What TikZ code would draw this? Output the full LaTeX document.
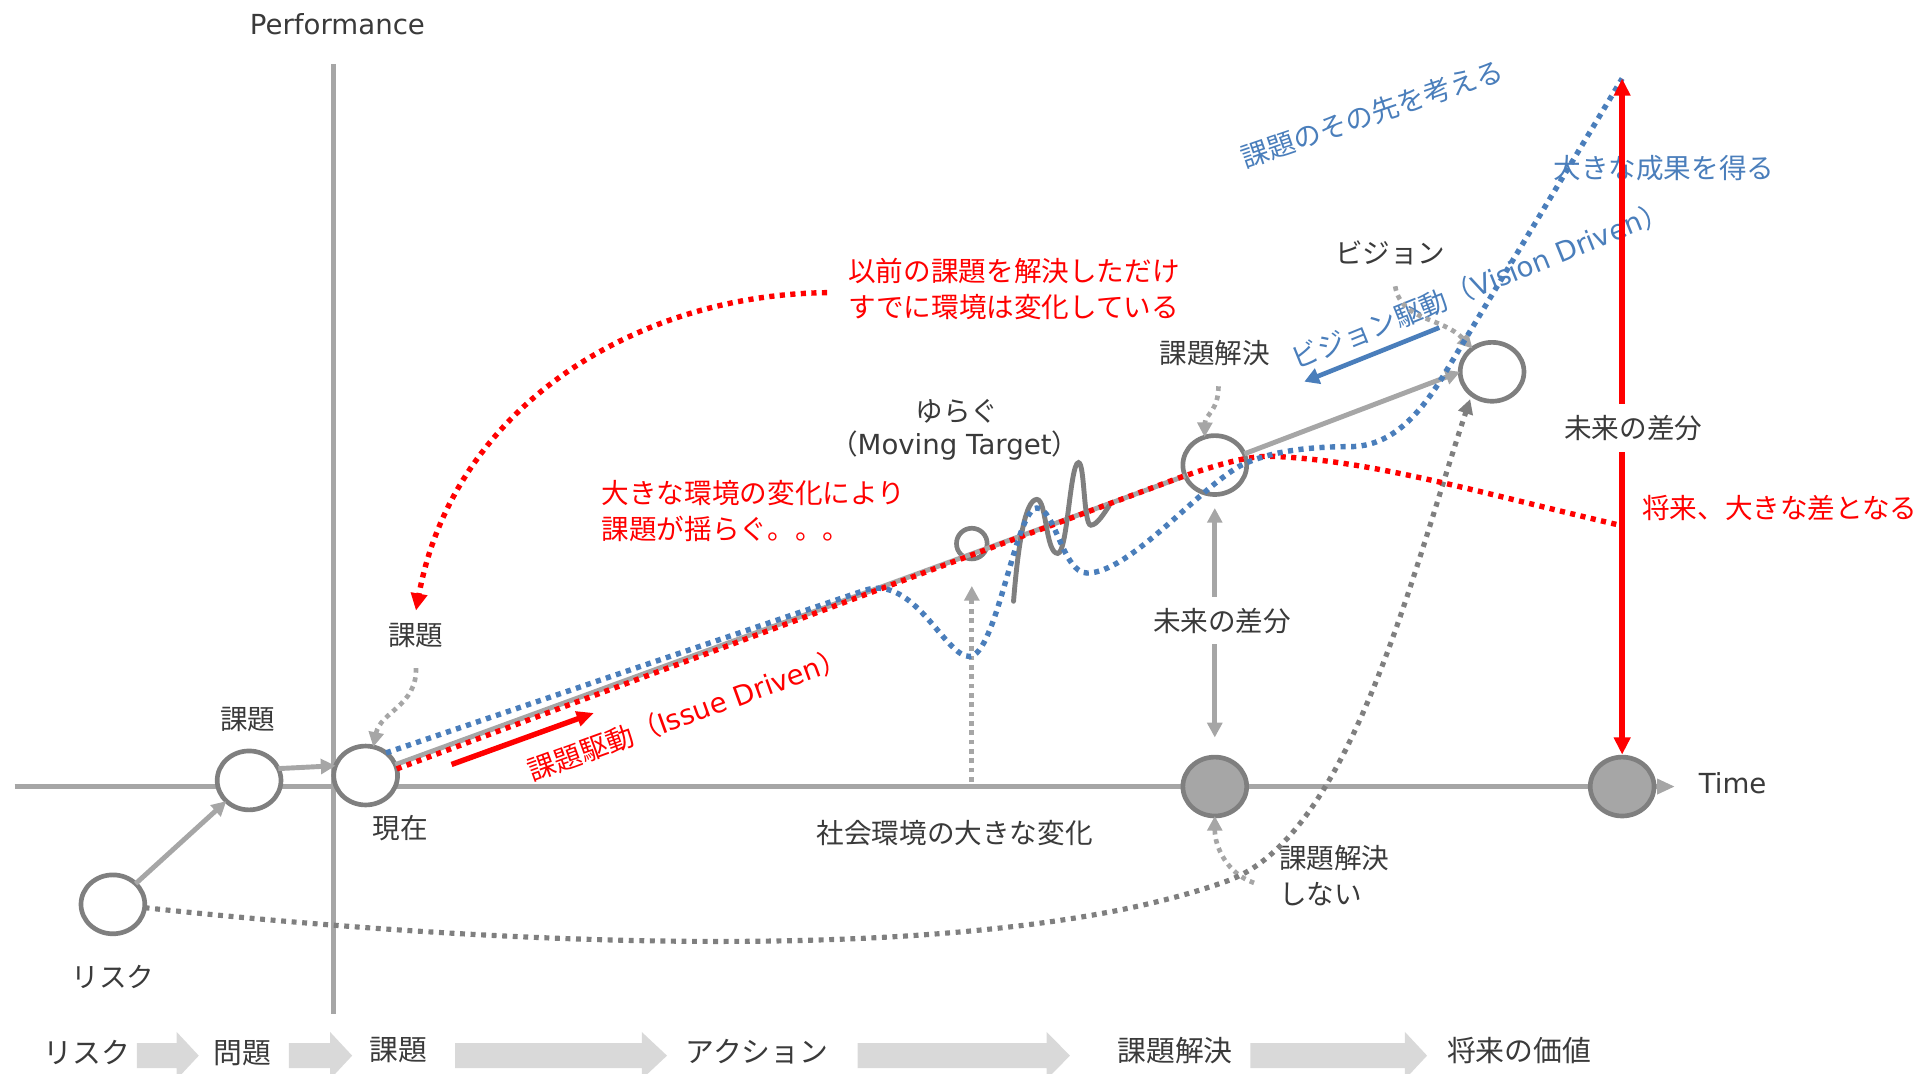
\documentclass[tikz,border=0pt]{standalone}
\usepackage{fontspec}
\setmainfont{Noto Sans CJK JP}
\newfontfamily\lat{DejaVu Sans}
\usetikzlibrary{arrows.meta,shapes.geometric}
\definecolor{axisgray}{HTML}{A6A6A6}
\definecolor{ringgray}{HTML}{7F7F7F}
\definecolor{txtgray}{HTML}{3A3A3A}
\definecolor{vblue}{HTML}{4A7EBB}
\definecolor{chevgray}{HTML}{D9D9D9}
\definecolor{pured}{HTML}{FF0000}
\newcommand\mychev[3]{\fill[chevgray] (#1,850) -- (#2,850) -- (#2,841) -- (#3,860.3) -- (#2,879.6) -- (#2,870.5) -- (#1,870.5) -- cycle;}
\begin{document}
\begin{tikzpicture}[x=0.5pt,y=-0.5pt,
  every node/.style={font=\fontsize{11.25}{14.5}\selectfont, text=txtgray, inner sep=0pt},
  bottomlbl/.style={font=\fontsize{11.75}{14.5}\selectfont},
  ring/.style={ellipse, draw=ringgray, line width=1.9pt, fill=white, minimum width=26pt, minimum height=24pt, inner sep=0pt, outer sep=0pt},
  smallring/.style={circle, draw=ringgray, line width=1.9pt, minimum size=12.5pt, inner sep=0pt, outer sep=0pt},
  gline/.style={draw=axisgray, line width=2pt},
  gtip/.style={-{Triangle[length=6pt,width=6pt]}},
  wiggle/.style={draw=ringgray, line width=2pt, line cap=round},
  redsq/.style={draw=pured, line width=2.2pt, dash pattern=on 2.1pt off 2.2pt},
  bluesq/.style={draw=vblue, line width=2.2pt, dash pattern=on 2.1pt off 2.2pt},
  lgraysq/.style={draw=axisgray, line width=1.9pt, dash pattern=on 1.9pt off 1.9pt},
  dgraysq/.style={draw=ringgray, line width=2.1pt, dash pattern=on 2pt off 2.3pt},
  redline/.style={draw=pured, line width=2.2pt},
  blueline/.style={draw=vblue, line width=1.9pt},
  whitelbl/.style={fill=white, inner ysep=4.5pt, inner xsep=1pt}
]
\useasboundingbox (0,0) rectangle (1568,875);

% bottom process row
\mychev{111.6}{144}{162}
\mychev{235.5}{269}{287}
\mychev{371}{523}{543.6}
\mychev{699}{853}{872}
\mychev{1019}{1145}{1163}
\node[bottomlbl] (bRisk) at (71,858) {リスク};
\node[bottomlbl] (bMondai) at (197.6,858) {問題};
\node[bottomlbl] (bKadai) at (325,856) {課題};
\node[bottomlbl] (bAction) at (617,857) {アクション};
\node[bottomlbl] (bKaiketsu) at (957.6,856) {課題解決};
\node[bottomlbl] (bValue) at (1238,856) {将来の価値};

% axes
\coordinate (axL) at (12,641);
\coordinate (axR) at (1365,641);
\coordinate (vaT) at (272,52);
\coordinate (vaB) at (272,826);
\draw[gline] (vaT) -- (vaB);
\draw[gline, -{Triangle[length=7.3pt,width=6pt]}] (axL) -- (axR);
\node (lblperf) at (275,20) {\lat Performance};
\node (lbltime) at (1412,638) {\lat Time};

% circles
\node[ring] (risk) at (92,737) {};
\node[ring] (kadai1) at (203,636) {};
\node[ring] (genzai) at (298,632) {};
\node[smallring] (yuragu) at (792,443) {};
\node[ring] (kaiketsu) at (990,379) {};
\node[ring] (vision) at (1216,303) {};
\node[ring, fill=axisgray] (gray1) at (990,641) {};
\node[ring, fill=axisgray] (gray2) at (1322,641) {};

% free coordinates
\coordinate (top) at (1322,64);
\coordinate (redend) at (1320,428);
\coordinate (issueA) at (368,623);
\coordinate (issueB) at (484,581);
\coordinate (visA) at (1173,267);
\coordinate (visB) at (1063,311);
\coordinate (socbase) at (792,637);

% gray solid connectors
\draw[gline, gtip] (risk) -- (kadai1);
\draw[gline, gtip] (kadai1.22) -- (genzai.162);
\draw[gline] (genzai) -- (kaiketsu);
\draw[gline, gtip] (kaiketsu) -- (vision.west);

% moving target wiggle
\draw[wiggle] (826,490) .. controls (830,440) and (836,407) .. (845,407)
  .. controls (853,407) and (852,451) .. (862,451)
  .. controls (870,451) and (872,377) .. (879,377)
  .. controls (884,377) and (883,428) .. (889,428)
  .. controls (894,428) and (900,418) .. (904,412);

% labels
\node (lblkadai1) at (202,586) {課題};
\node (lblgenzai) at (326,675) {現在};
\node (lblrisk) at (92,796) {リスク};
\node (lblkadai2) at (339,518) {課題};
\node (lblyuragu) at (780,335) {ゆらぐ};
\node (lblmoving) at (778,363) {（{\lat Moving Target}）};
\node[anchor=west, align=left, text=pured] (lblchange) at (490,416.5) {大きな環境の変化により\\課題が揺らぐ。。。};
\node[anchor=west, align=left, text=pured] (lblbefore) at (691,235.5) {以前の課題を解決しただけ\\すでに環境は変化している};
\node (lblkaiketsu) at (990,288) {課題解決};
\node (lblvision) at (1133,206) {ビジョン};
\node[anchor=west, text=pured] (lblfuture) at (1338,414) {将来、大きな差となる};
\node[anchor=west, align=left] (lblnot) at (1042,713.5) {課題解決\\しない};
\node (lblsociety) at (778,679) {社会環境の大きな変化};
\node[rotate=20, text=pured] (lblissue) at (560,582) {課題駆動（{\lat Issue Driven}）};
\node[rotate=22, text=vblue] (lblvdriven) at (1206,232) {ビジョン駆動（{\lat Vision Driven}）};
\node[rotate=19, text=vblue] (lblbeyond) at (1118,93) {課題のその先を考える};
\node[text=vblue] (lblresult) at (1356,137) {大きな成果を得る};

% light gray dotted pointers
\draw[lgraysq, gtip] ([yshift=-8pt]lblkadai2.south) .. controls (340,575) and (310,580) .. (genzai.75);
\draw[lgraysq, gtip] ([xshift=1.5pt,yshift=-8pt]lblkaiketsu.south) .. controls (993,335) and (982,338) .. (kaiketsu.110);
\draw[lgraysq, gtip] ([xshift=2pt,yshift=-8.5pt]lblvision.south) .. controls (1142,262) and (1175,258) .. (vision.130);
\draw[lgraysq, gtip] ([xshift=-10pt,yshift=-3pt]lblnot.west) .. controls (1000,712) and (990,690) .. (gray1.south);
\draw[lgraysq, gtip, shorten >=11pt] (socbase) -- (yuragu.south);

% long dark gray dotted curve
\draw[dgraysq, -{Triangle[length=6pt,width=6pt]}, shorten >=2pt] (risk.-6) .. controls (400,770) and (800,790) .. (1000,718)
  .. controls (1100,682) and (1150,470) .. (vision.228);

% red dotted: issue driven path
\draw[redsq] (genzai.12) -- (962,389) .. controls (1000,376) and (1020,371) .. (1040,372)
  .. controls (1120,376) and (1200,400) .. (redend);

% blue dotted: vision path
\draw[bluesq] (genzai.48) -- (705,481) .. controls (745,468) and (770,535) .. (790,535)
  .. controls (812,535) and (828,414) .. (845,414)
  .. controls (860,414) and (866,467) .. (886,467)
  .. controls (920,467) and (975,400) .. (1010,380)
  .. controls (1035,367) and (1070,364) .. (1100,364)
  .. controls (1135,364) and (1159,336) .. (1180,300) -- (top);

% red dotted curved arrow from note
\draw[redsq, -{Triangle[length=7pt,width=6.5pt]}] ([xshift=-8.5pt,yshift=-1.5pt]lblbefore.west) .. controls (520,240) and (370,330) .. ([yshift=5pt]lblkadai2.north);

% solid driven arrows
\draw[redline, -{Triangle[length=7pt,width=6pt]}] (issueA) -- (issueB);
\draw[blueline, -{Triangle[length=6pt,width=6.5pt]}] (visA) -- (visB);

% difference arrows
\draw[gline, {Triangle[length=6pt,width=6pt]}-{Triangle[length=6pt,width=6pt]}, shorten <=5.5pt, shorten >=8pt] (kaiketsu.south) -- (gray1.north) node[pos=0.48, whitelbl, xshift=3pt] (diff1) {未来の差分};
\draw[redline, {Triangle[length=7pt,width=6.5pt]}-{Triangle[length=7pt,width=6.5pt]}, shorten >=1pt] (top) -- (gray2.north) node[pos=0.515, whitelbl, xshift=4.5pt] (diff2) {未来の差分};
\end{tikzpicture}
\end{document}
